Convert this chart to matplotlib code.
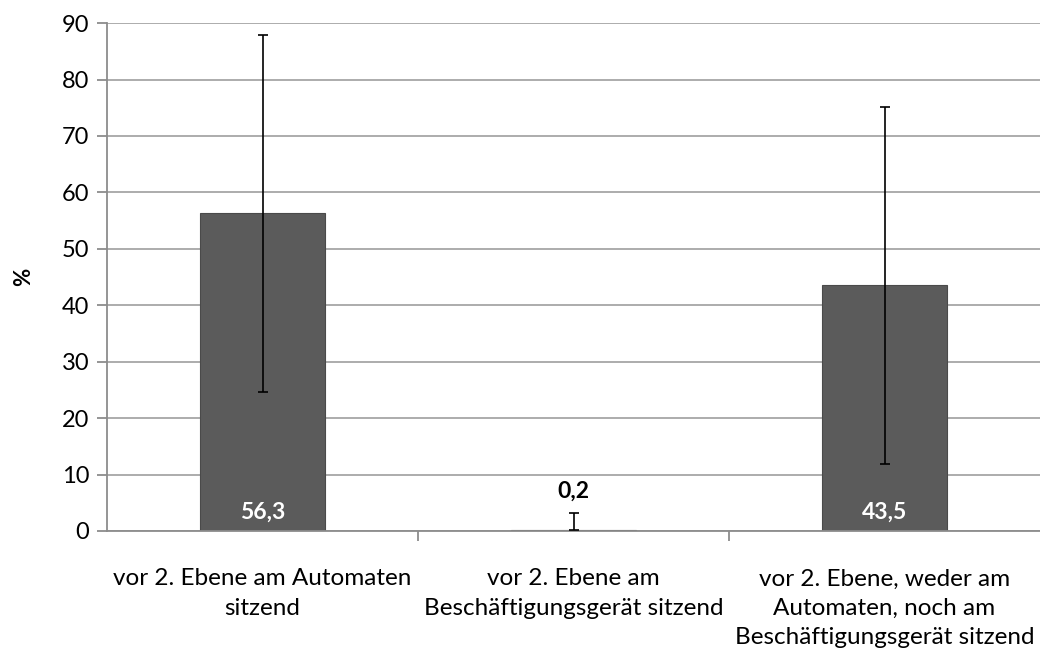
import numpy as np
import matplotlib.pyplot as plt

categories = ["vor 2. Ebene am Automaten\nsitzend",
              "vor 2. Ebene am\nBeschäftigungsgerät sitzend",
              "vor 2. Ebene, weder am\nAutomaten, noch am\nBeschäftigungsgerät sitzend"]
values = [56.3, 0.2, 43.5]
err_low = [31.6, 0.0, 31.6]
err_high = [31.6, 3.0, 31.6]
labels = ["56,3", "0,2", "43,5"]

plt.rcParams['font.family'] = ['Lato', 'DejaVu Sans']

fig = plt.figure(figsize=(10.4, 6.52), dpi=100)
ax = fig.add_axes([0.103, 0.1856, 0.897, 0.779])

x = np.arange(len(values))
ax.bar(x, values, width=0.4, color="#5b5b5b", edgecolor="#4a4a4a", linewidth=0.8, zorder=2)
ax.errorbar(x, values, yerr=[err_low, err_high], fmt="none", ecolor="black",
            elinewidth=1.2, capsize=3.5, capthick=1.2, zorder=3)

for i, (v, lab) in enumerate(zip(values, labels)):
    if v > 5:
        ax.text(i, 3.4, lab, ha="center", va="center", color="white",
                fontsize=16.5, fontweight="bold", zorder=4)
    else:
        ax.text(i, 7.0, lab, ha="center", va="center", color="black",
                fontsize=16.5, fontweight="bold", zorder=4)

ax.set_xlim(-0.5, 2.5)
ax.set_ylim(0, 90)
ax.set_yticks(np.arange(0, 91, 10))
ax.yaxis.grid(True, color="#a6a6a6", linewidth=1.3, zorder=0)
ax.set_axisbelow(True)

ax.set_xticks([0.5, 1.5], minor=False)
ax.set_xticklabels([])
ax.set_xticks(x, minor=True)
ax.set_xticklabels(categories, minor=True, fontsize=17.5, linespacing=1.5)
ax.tick_params(axis="x", which="minor", length=0, pad=27)
ax.tick_params(axis="x", which="major", length=7, color="#8c8c8c", width=1.3)
ax.tick_params(axis="y", length=7, color="#8c8c8c", width=1.3, labelsize=17, pad=6)

for s in ["top", "right"]:
    ax.spines[s].set_visible(False)
for s in ["left", "bottom"]:
    ax.spines[s].set_color("#8c8c8c")
    ax.spines[s].set_linewidth(1.3)

ax.set_ylabel("%", fontsize=16, fontweight="bold", labelpad=20)

fig.savefig("out.png", dpi=100)
